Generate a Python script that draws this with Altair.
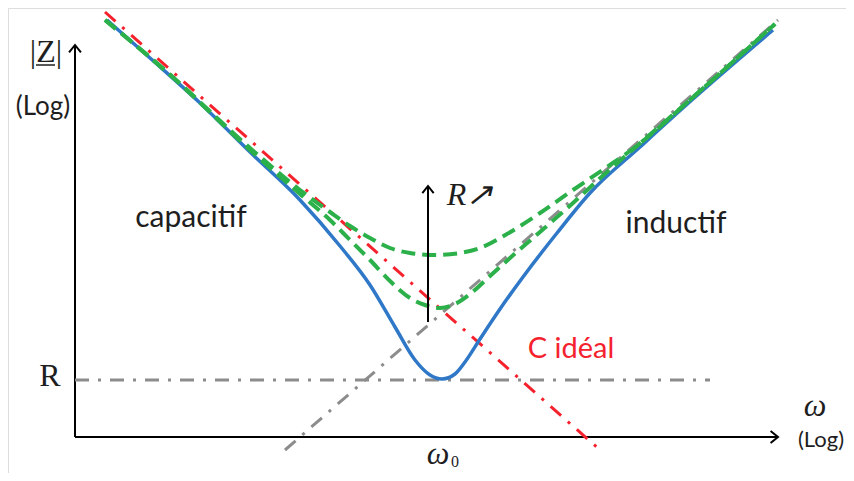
import altair as alt
import pandas as pd

# Coordinates in arbitrary log units (origin = axes corner)
blue_x = [32, 75, 125, 175, 225, 265, 295, 320, 340, 355, 367, 380, 390, 405, 425, 448, 482, 515, 565, 618, 698]
blue_y = [417, 379, 334, 285, 237, 191, 152, 110, 77, 62, 58, 63, 75, 98, 128, 160, 204, 244, 290, 338, 407]

green_hi_x = [30, 92, 175, 225, 255, 275, 295, 315, 335, 360, 385, 405, 432, 465, 498, 532, 555, 625, 700]
green_hi_y = [417, 365, 289, 247, 225, 211, 199, 189, 184, 182, 184, 189, 203, 224, 247, 270, 286, 346, 413]

green_lo_x = [30, 92, 175, 225, 255, 275, 295, 315, 335, 350, 365, 380, 395, 415, 435, 465, 498, 532, 555, 625, 700]
green_lo_y = [417, 365, 287, 243, 217, 197, 177, 156, 139, 132, 129, 133, 143, 161, 179, 205, 234, 265, 285, 346, 413]

cap_x = [30, 525]
cap_y = [425, -13]
ind_x = [210, 703]
ind_y = [-13, 417]
r_x = [0, 635]
r_y = [57, 57]

X_DOM = [-67, 771]
Y_DOM = [-36, 429]
W, H = 838, 465

xs = alt.Scale(domain=X_DOM, nice=False, zero=False)
ys = alt.Scale(domain=Y_DOM, nice=False, zero=False)


def line_layer(xv, yv, **mk):
    df = pd.DataFrame({"x": xv, "y": yv, "o": list(range(len(xv)))})
    return alt.Chart(df).mark_line(**mk).encode(
        x=alt.X("x:Q", scale=xs, axis=None),
        y=alt.Y("y:Q", scale=ys, axis=None),
        order="o:O",
    )


def text_layer(label, xv, yv, **mk):
    df = pd.DataFrame({"x": [xv], "y": [yv], "t": [label]})
    return alt.Chart(df).mark_text(**mk).encode(
        x=alt.X("x:Q", scale=xs, axis=None),
        y=alt.Y("y:Q", scale=ys, axis=None),
        text="t:N",
    )


def head_layer(xv, yv, shape, size=220):
    df = pd.DataFrame({"x": [xv], "y": [yv]})
    return alt.Chart(df).mark_point(
        shape=shape, size=size, filled=False, stroke="black", strokeWidth=2, opacity=1
    ).encode(
        x=alt.X("x:Q", scale=xs, axis=None),
        y=alt.Y("y:Q", scale=ys, axis=None),
    )


UP = "M-0.8,1L0,0L0.8,1"
RIGHT = "M-1,-0.8L0,0L-1,0.8"

grey = "#8c8c8c"
red = "#f5222d"
blue = "#2f78c8"
green = "#2bb04a"
ink = "#1e1e1e"

layers = [
    # axes
    line_layer([0, 0], [0, 392], color="black", strokeWidth=2),
    line_layer([0, 703], [0, 0], color="black", strokeWidth=2),
    head_layer(0, 392, UP),
    head_layer(703, 0, RIGHT),
    # asymptotes
    line_layer(r_x, r_y, color=grey, strokeWidth=3, strokeDash=[14, 9, 3, 9]),
    line_layer(ind_x, ind_y, color=grey, strokeWidth=3, strokeDash=[14, 9, 3, 9]),
    line_layer(cap_x, cap_y, color=red, strokeWidth=3, strokeDash=[14, 9, 3, 9]),
    # curves
    line_layer(blue_x, blue_y, color=blue, strokeWidth=3.5, interpolate="monotone"),
    line_layer(green_lo_x, green_lo_y, color=green, strokeWidth=4, strokeDash=[14, 7], interpolate="monotone"),
    line_layer(green_hi_x, green_hi_y, color=green, strokeWidth=4, strokeDash=[14, 7], interpolate="monotone"),
    # R arrow
    line_layer([353, 353], [115, 250], color="black", strokeWidth=2),
    head_layer(353, 251, UP, size=200),
    # texts
    text_layer("|Z|", -29, 385, font="Liberation Serif", fontSize=32, color=ink),
    line_layer([-39, -20], [372, 372], color=ink, strokeWidth=1.5),
    text_layer("(Log)", -32, 330, font="Lato", fontSize=26, color=ink),
    text_layer("R", -25, 61, font="Liberation Serif", fontSize=32, color=ink),
    text_layer("ω", 740, 31, font="Liberation Serif", fontSize=32, fontStyle="italic", color=ink),
    text_layer("(Log)", 746, -3, font="Lato", fontSize=22, color=ink),
    text_layer("ω", 363, -17, font="Liberation Serif", fontSize=32, fontStyle="italic", color=ink),
    text_layer("0", 380, -30, font="Liberation Serif", fontSize=16, baseline="alphabetic", color=ink),
    text_layer("capacitif", 116, 219, font="Lato", fontSize=30, color=ink),
    text_layer("inductif", 601, 213, font="Lato", fontSize=30, color=ink),
    text_layer("C idéal", 496, 88, font="Lato", fontSize=29, color=red),
    text_layer("R↗", 395, 242, font="Liberation Serif", fontSize=32, fontStyle="italic", color=ink),
]

chart = alt.layer(*layers).properties(
    width=W, height=H, autosize=alt.AutoSizeParams(type="none"), padding=0
).configure_view(strokeWidth=0, stroke="transparent").configure(background="white")

chart.save("out.html", embed_options={"renderer": "svg", "actions": False})
